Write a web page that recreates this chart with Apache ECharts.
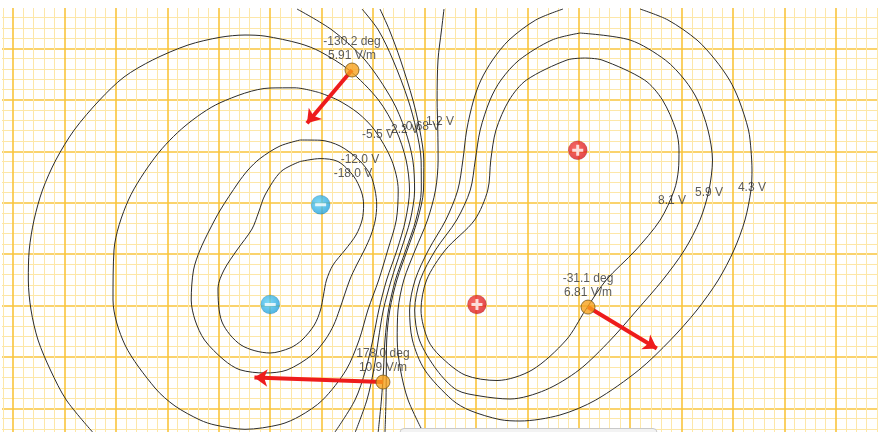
<!DOCTYPE html>
<html>
<head>
<meta charset="utf-8">
<script src="https://cdn.jsdelivr.net/npm/echarts@6/dist/echarts.min.js"></script>
<style>
  html, body { margin: 0; padding: 0; background: #fff; }
  #field { width: 881px; height: 432px; }
</style>
</head>
<body>
<div id="field"></div>
<script>
// charges (metres)
var negX = [-1.01, -1.50];
var negY = [0.48, -0.49];
var posX = [1.49, 0.51];
var posY = [1.01, -0.49];

// E-field probes
var probeX = [-0.705, -0.404, 1.590];
var probeY = [1.790, -1.244, -0.515];
var probeDeg = [-130.2, 178.0, -31.1];
var probeField = [5.91, 10.9, 6.81];

// equipotential lines (x, y in metres)
var vN18 = [[-1.2105,0.9003],[-1.0160,0.9285],[-0.8410,0.9003],[-0.6903,0.7594],[-0.6125,0.6038],[-0.5921,0.4774],[-0.6067,0.3316],[-0.6660,0.1857],[-0.7730,0.0399],[-0.8896,-0.1060],[-0.9529,-0.2518],[-0.9820,-0.3977],[-1.0112,-0.5435],[-1.0715,-0.6894],[-1.1911,-0.8352],[-1.3077,-0.9130],[-1.5022,-0.9616],[-1.7842,-0.8838],[-1.9689,-0.6602],[-2.0078,-0.3296],[-1.9495,-0.1546],[-1.8231,0.0399],[-1.6772,0.2440],[-1.6121,0.4093],[-1.5508,0.5746],[-1.3952,0.8031],[-1.2105,0.9003]];
var vN12 = [[-1.2105,1.1094],[-1.0160,1.1074],[-0.8216,1.0511],[-0.6369,0.9149],[-0.5250,0.7691],[-0.4813,0.6232],[-0.4648,0.4774],[-0.4784,0.3316],[-0.5202,0.1857],[-0.5843,0.0399],[-0.6602,-0.1060],[-0.7273,-0.2518],[-0.8274,-0.5435],[-0.8828,-0.6894],[-0.9665,-0.8352],[-1.0938,-0.9810],[-1.3369,-1.1269],[-1.5508,-1.1561],[-1.7939,-1.1249],[-1.9495,-1.0297],[-2.1391,-0.8352],[-2.2314,-0.6407],[-2.2684,-0.4463],[-2.2460,-0.1546],[-2.1828,0.0399],[-2.0904,0.2343],[-1.9854,0.4288],[-1.8133,0.6913],[-1.7161,0.8177],[-1.5994,0.9295],[-1.4050,1.0511],[-1.2105,1.1094]];
var vN55 = [[-1.0160,1.5683],[-0.8440,1.4983],[-0.6466,1.3719],[-0.4852,1.2066],[-0.3199,0.9149],[-0.2557,0.6232],[-0.2742,0.3316],[-0.3568,0.0399],[-0.4453,-0.2518],[-0.5503,-0.5435],[-0.6359,-0.8352],[-0.7623,-1.1269],[-0.9908,-1.4186],[-1.2105,-1.5742],[-1.4050,-1.6568],[-1.7453,-1.7035],[-2.0370,-1.6617],[-2.1828,-1.6130],[-2.4259,-1.4769],[-2.6203,-1.3019],[-2.9120,-0.8838],[-3.0287,-0.4463],[-3.0190,0.0399],[-2.8790,0.5260],[-2.6106,0.9538],[-2.3286,1.2455],[-1.9884,1.4711],[-1.5022,1.6150],[-1.2591,1.6169],[-1.0160,1.5683]];
var vN32 = [[-3.2280,-1.7297],[-3.4828,-1.4186],[-3.6374,-1.1269],[-3.7579,-0.8352],[-3.8260,-0.5435],[-3.8522,-0.2518],[-3.8435,0.0399],[-3.7968,0.3316],[-3.7142,0.6232],[-3.5849,0.9149],[-3.4060,1.2066],[-3.1590,1.4983],[-2.9218,1.7219],[-2.6437,1.8873],[-2.2995,2.0331],[-1.9884,2.1079],[-1.7453,2.1303],[-1.5508,2.1196],[-1.2105,2.0467],[-1.0160,1.9699],[-0.7341,1.7900],[-0.4473,1.4983],[-0.2771,1.2066],[-0.1789,0.9149],[-0.1458,0.6232],[-0.1847,0.3316],[-0.2674,0.0399],[-0.3685,-0.2518],[-0.4443,-0.5435],[-0.5027,-0.8352],[-0.5727,-1.1269],[-0.6757,-1.4186],[-0.8702,-1.7297]];
var vN22 = [[-1.2397,2.3831],[-0.8994,2.1789],[-0.5785,1.8873],[-0.3141,1.4983],[-0.1886,1.2066],[-0.1138,0.9149],[-0.0963,0.6232],[-0.1381,0.3316],[-0.2285,0.0399],[-0.3228,-0.2518],[-0.4006,-0.5435],[-0.4492,-0.8352],[-0.4939,-1.1269],[-0.5600,-1.4186],[-0.6728,-1.7297]];
var vN10 = [[-0.6077,2.3831],[-0.4492,2.1789],[-0.3063,1.8873],[-0.1585,1.4983],[-0.0797,1.2066],[-0.0331,0.9149],[-0.0311,0.6232],[-0.0836,0.3316],[-0.1818,0.0399],[-0.2829,-0.2518],[-0.3500,-0.5435],[-0.3841,-0.8352],[-0.3986,-1.1269],[-0.4191,-1.4186],[-0.4502,-1.7297]];
var vN068 = [[-0.4327,2.3831],[-0.3413,2.1789],[-0.2334,1.8873],[-0.1128,1.4983],[-0.0457,1.2066],[-0.0068,0.9149],[-0.0097,0.6232],[-0.0681,0.3316],[-0.1672,0.0399],[-0.2683,-0.2518],[-0.3374,-0.5435],[-0.3675,-0.8352],[-0.3714,-1.1269],[-0.3743,-1.4186],[-0.3841,-1.7297]];
var vP12 = [[0.1896,2.3831],[0.1653,2.1789],[0.1313,1.8873],[0.1225,1.4983],[0.1293,1.2066],[0.1322,0.9149],[0.1070,0.6232],[0.0292,0.3316],[-0.0904,0.0399],[-0.2013,-0.2518],[-0.2577,-0.5435],[-0.2654,-0.8352],[-0.2334,-1.1269],[-0.1595,-1.4186],[-0.0146,-1.7297]];
var vP43 = [[1.3466,2.3831],[1.0812,2.2761],[0.8216,2.0817],[0.6621,1.8873],[0.5493,1.6928],[0.4774,1.4983],[0.4103,1.2066],[0.3734,0.9149],[0.3238,0.6232],[0.2071,0.3316],[0.0389,0.0399],[-0.0914,-0.2518],[-0.1449,-0.5435],[-0.1176,-0.8352],[0.0029,-1.1269],[0.2703,-1.4186],[0.4424,-1.5207],[0.7341,-1.6091],[0.9285,-1.6228],[1.3175,-1.5644],[1.6655,-1.4186],[2.0846,-1.1269],[2.3919,-0.8352],[2.6495,-0.5435],[2.8566,-0.2518],[3.0093,0.0399],[3.1162,0.3316],[3.1745,0.6232],[3.1843,0.8177],[3.1745,1.0122],[3.1503,1.2066],[3.0579,1.4983],[2.9655,1.6928],[2.8284,1.8873],[2.6495,2.0817],[2.3676,2.2761],[2.0953,2.3831]];
var vP59 = [[1.5119,2.1497],[1.9981,2.0817],[2.3413,1.8873],[2.5309,1.6928],[2.6544,1.4983],[2.7565,1.2066],[2.8002,0.9149],[2.7662,0.6232],[2.6787,0.3316],[2.5280,0.0399],[2.3160,-0.2518],[2.0661,-0.5435],[1.8085,-0.8352],[1.5022,-1.1269],[1.1765,-1.3213],[0.8313,-1.4089],[0.5396,-1.3797],[0.3141,-1.3213],[0.1196,-1.1269],[-0.0496,-0.8352],[-0.0953,-0.5435],[-0.0418,-0.2518],[0.1070,0.0399],[0.3131,0.3316],[0.4453,0.6232],[0.4939,0.9149],[0.5416,1.2066],[0.6369,1.4983],[0.7438,1.6928],[0.9208,1.8873],[1.2397,2.0817],[1.5119,2.1497]];
var vP81 = [[1.5605,1.9067],[1.7258,1.8873],[2.1391,1.6928],[2.3141,1.4983],[2.4453,1.2066],[2.4745,1.0122],[2.4687,0.8177],[2.4288,0.6232],[2.2917,0.3316],[2.0545,0.0399],[1.7667,-0.2518],[1.5654,-0.5435],[1.3777,-0.8352],[1.0452,-1.1269],[0.7049,-1.2290],[0.3938,-1.1755],[0.1507,-0.9908],[0.0340,-0.8352],[-0.0340,-0.5435],[0.0204,-0.2518],[0.2022,0.0399],[0.4871,0.3316],[0.6155,0.6232],[0.6446,0.9149],[0.6952,1.2066],[0.8235,1.4983],[0.9917,1.6928],[1.3855,1.8873],[1.5605,1.9067]];

// line labels
var labelText = ['-18.0 V', '-12.0 V', '-5.5 V', '-2.2 V', '-0.68 V', '1.2 V', '8.1 V', '5.9 V', '4.3 V'];
var labelX = [-0.695, -0.627, -0.452, -0.209, -0.034, 0.151, 2.407, 2.766, 3.184];
var labelY = [0.778, 0.915, 1.158, 1.206, 1.236, 1.284, 0.516, 0.594, 0.642];

var ARROW_SCALE = 0.1147; // metres per V/m

var chart = echarts.init(document.getElementById('field'), null, { renderer: 'canvas' });

var contours = [vN18, vN12, vN55, vN32, vN22, vN10, vN068, vP12, vP43, vP59, vP81];
var series = [];
contours.forEach(function (pts, i) {
  series.push({
    type: 'line',
    name: 'eq' + i,
    data: pts,
    showSymbol: false,
    smooth: 0.3,
    lineStyle: { color: '#2b2b2b', width: 1 },
    silent: true,
    z: 2
  });
});

series.push({
  type: 'scatter',
  data: labelText.map(function (t, i) { return { value: [labelX[i], labelY[i]], name: t }; }),
  symbolSize: 0,
  label: {
    show: true,
    position: 'inside',
    formatter: '{b}',
    color: '#333',
    fontSize: 12,
    fontFamily: 'Liberation Sans, Arial, sans-serif'
  },
  z: 4
});

var arrows = probeX.map(function (x, i) {
  var a = probeDeg[i] * Math.PI / 180;
  var len = probeField[i] * ARROW_SCALE;
  return { coords: [[x, probeY[i]], [x + len * Math.cos(a), probeY[i] + len * Math.sin(a)]] };
});
series.push({
  type: 'lines',
  coordinateSystem: 'cartesian2d',
  data: arrows,
  symbol: ['none', 'arrow'],
  symbolSize: 13,
  lineStyle: { color: '#ee1c1c', width: 4, opacity: 1 },
  silent: true,
  z: 5
});

series.push({
  type: 'scatter',
  data: probeX.map(function (x, i) {
    return { value: [x, probeY[i]], name: probeDeg[i].toFixed(1) + ' deg\n' + probeField[i] + ' V/m' };
  }),
  symbol: 'circle',
  symbolSize: 14,
  itemStyle: { color: '#f6a11d', borderColor: '#7a5a1a', borderWidth: 1 },
  label: {
    show: true,
    position: 'top',
    distance: 0,
    formatter: '{b}',
    color: '#333',
    fontSize: 12,
    lineHeight: 14,
    fontFamily: 'Liberation Sans, Arial, sans-serif'
  },
  z: 6
});

function chargeSeries(xs, ys, fill, mark, markSize) {
  return [{
    type: 'scatter',
    data: xs.map(function (x, i) { return [x, ys[i]]; }),
    symbol: 'circle',
    symbolSize: 19,
    itemStyle: { color: fill, borderColor: 'rgba(0,0,0,0.15)', borderWidth: 1 },
    z: 6
  }, {
    type: 'scatter',
    data: xs.map(function (x, i) { return [x, ys[i]]; }),
    symbol: mark,
    symbolSize: markSize,
    itemStyle: { color: '#fff' },
    z: 7
  }];
}
var redFill = new echarts.graphic.RadialGradient(0.4, 0.4, 0.7, [
  { offset: 0, color: '#f2453d' }, { offset: 1, color: '#d8141b' }]);
var blueFill = new echarts.graphic.RadialGradient(0.4, 0.4, 0.7, [
  { offset: 0, color: '#5fd0f5' }, { offset: 1, color: '#1a9ad8' }]);
series = series.concat(
  chargeSeries(posX, posY, redFill, 'path://M4,0H7V4H11V7H7V11H4V7H0V4H4Z', 11),
  chargeSeries(negX, negY, blueFill, 'path://M0,0H11V3H0Z', [11, 3])
);

var option = {
  animation: false,
  backgroundColor: '#fff',
  grid: { left: -38.3, right: -6.3, top: -3.0, bottom: -27.8, containLabel: false, outerBoundsMode: 'none' },
  xAxis: {
    type: 'value', min: -4.5, max: 4.5, interval: 0.5,
    axisLine: { show: false }, axisTick: { show: false }, axisLabel: { show: false },
    splitLine: { show: true, lineStyle: { color: '#f9c53c', width: 1.6 } },
    minorTick: { show: false, splitNumber: 5 },
    minorSplitLine: { show: true, lineStyle: { color: '#fde7a8', width: 1 } }
  },
  yAxis: {
    type: 'value', min: -2.0, max: 2.5, interval: 0.5,
    axisLine: { show: false }, axisTick: { show: false }, axisLabel: { show: false },
    splitLine: { show: true, lineStyle: { color: '#f9c53c', width: 1.6 } },
    minorTick: { show: false, splitNumber: 5 },
    minorSplitLine: { show: true, lineStyle: { color: '#fde7a8', width: 1 } }
  },
  graphic: [
    { type: 'rect', shape: { x: 0, y: 0, width: 881, height: 8 }, style: { fill: '#fff' }, z: 100 },
    { type: 'rect', shape: { x: 0, y: 0, width: 2, height: 432 }, style: { fill: '#fff' }, z: 100 },
    { type: 'rect', shape: { x: 878, y: 0, width: 3, height: 432 }, style: { fill: '#fff' }, z: 100 },
    { type: 'rect', shape: { x: 400, y: 428.5, width: 257, height: 12, r: 4 },
      style: { fill: '#f3f3f3', stroke: '#c9c9c9', lineWidth: 1 }, z: 100 }
  ],
  series: series
};
chart.setOption(option);
</script>
</body>
</html>
